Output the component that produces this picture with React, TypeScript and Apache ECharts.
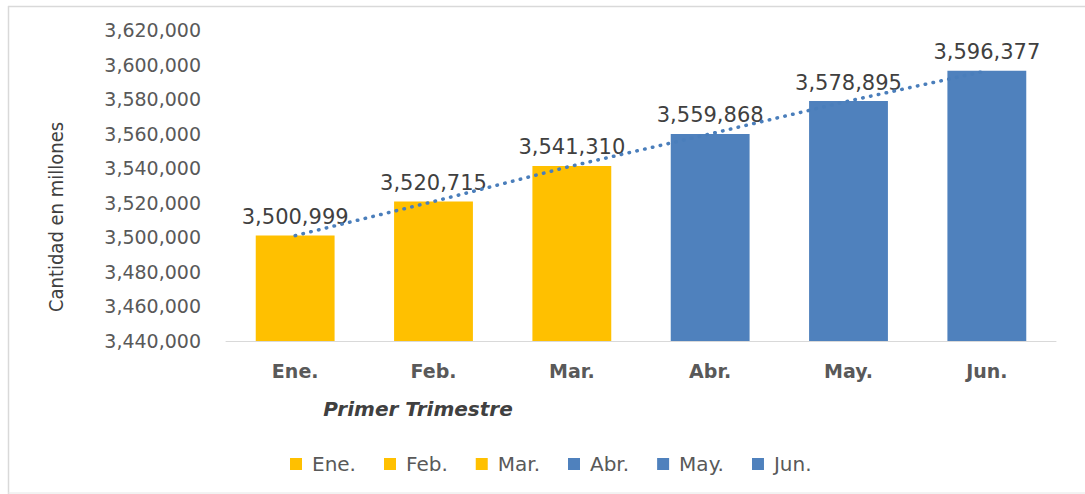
import React, { useEffect, useRef } from "react";
import * as echarts from "echarts";

const months = ["Ene.", "Feb.", "Mar.", "Abr.", "May.", "Jun."];
const values = [3500999, 3520715, 3541310, 3559868, 3578895, 3596377];
const barColors = ["#FFC000", "#FFC000", "#FFC000", "#4F81BD", "#4F81BD", "#4F81BD"];
const yMin = 3440000;
const yMax = 3620000;
const yStep = 20000;

const FONT = "DejaVu Sans";
const fmt = (v: number) => Math.round(v).toLocaleString("en-US");

export default function App() {
  const ref = useRef<HTMLDivElement>(null);
  useEffect(() => {
    if (!ref.current) return;
    const chart = echarts.init(ref.current, null, { renderer: "svg" });
    const barSeries = months.map((m, i) => ({
      name: m,
      type: "bar",
      barWidth: "57%",
      barGap: "-100%",
      itemStyle: { color: barColors[i] },
      label: {
        show: true,
        position: "top",
        distance: 8,
        color: "#404040",
        fontFamily: FONT,
        fontSize: 21,
        formatter: (p: any) => fmt(p.value),
      },
      data: values.map((v, j) => (j === i ? v : "-")),
      z: 2,
    }));
    chart.setOption({
      animation: false,
      backgroundColor: "#ffffff",
      grid: { left: 226, right: 29, top: 30, bottom: 153 },
      legend: {
        data: months,
        left: 285,
        top: 449,
        icon: "rect",
        itemWidth: 12,
        itemHeight: 12,
        itemGap: 28,
        textStyle: { color: "#595959", fontFamily: FONT, fontSize: 20, padding: [0, 0, 0, 5] },
      },
      xAxis: {
        type: "category",
        data: months,
        axisLine: { show: true, lineStyle: { color: "#d9d9d9", width: 1 } },
        axisTick: { show: false },
        axisLabel: {
          color: "#595959",
          fontFamily: FONT,
          fontSize: 19,
          fontWeight: "bold",
          margin: 20,
        },
      },
      yAxis: {
        type: "value",
        min: yMin,
        max: yMax,
        interval: yStep,
        axisLine: { show: false },
        axisTick: { show: false },
        splitLine: { show: false },
        axisLabel: {
          color: "#595959",
          fontFamily: FONT,
          fontSize: 19,
          margin: 25,
          formatter: (v: number) => fmt(v),
        },
      },
      graphic: [
        { type: "line", shape: { x1: 8, y1: 6.5, x2: 1085, y2: 6.5 }, style: { stroke: "#d9d9d9", lineWidth: 1.5 } },
        { type: "line", shape: { x1: 8.5, y1: 6, x2: 8.5, y2: 494 }, style: { stroke: "#d9d9d9", lineWidth: 1.5 } },
        { type: "line", shape: { x1: 8, y1: 493, x2: 1085, y2: 493 }, style: { stroke: "#e6e6e6", lineWidth: 1 } },
        {
          type: "text",
          x: 56,
          y: 217,
          rotation: Math.PI / 2,
          style: {
            text: "Cantidad en millones",
            fill: "#404040",
            font: "20px 'Liberation Sans Narrow', 'DejaVu Sans Condensed', sans-serif",
            align: "center",
            verticalAlign: "middle",
          },
        },
        {
          type: "text",
          x: 418,
          y: 409,
          style: {
            text: "Primer Trimestre",
            fill: "#404040",
            font: "italic bold 20px 'DejaVu Sans'",
            align: "center",
            verticalAlign: "middle",
          },
        },
      ],
      series: [
        ...barSeries,
        {
          name: "Tendencia",
          type: "line",
          data: values,
          symbol: "none",
          z: 5,
          lineStyle: { color: "#4A7EBB", width: 3.5, type: [0.5, 7.5], cap: "round" },
        },
      ],
    });
    return () => chart.dispose();
  }, []);
  return (
    <div
      ref={ref}
      style={{ position: "fixed", left: 0, top: 0, width: 1085, height: 494 }}
    />
  );
}
